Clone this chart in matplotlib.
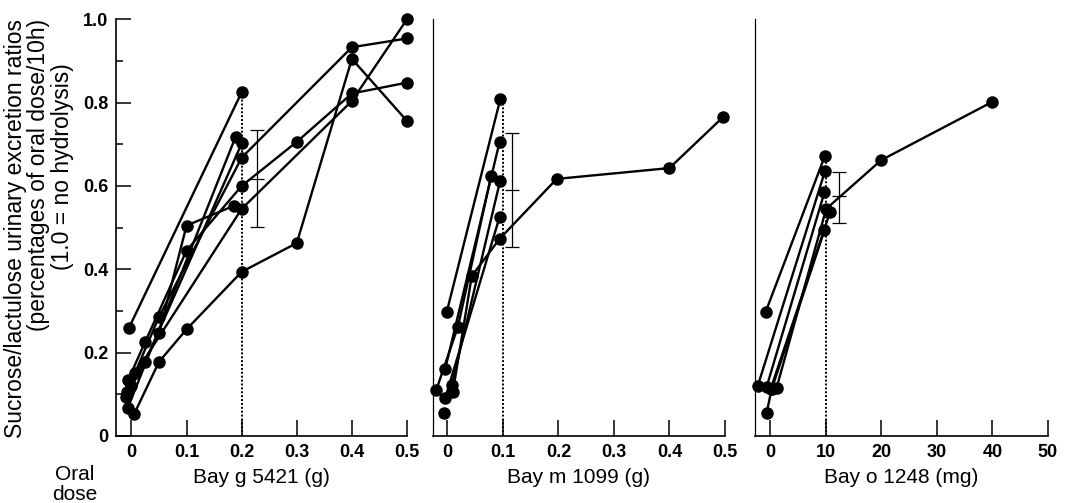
import matplotlib
matplotlib.use('Agg')
import matplotlib.pyplot as plt
from matplotlib.ticker import FixedLocator

# ---------------- data ----------------
# Bay g 5421 (g): one list per subject
bayg_x = [
    [-0.005, 0.2],
    [-0.008, 0.05, 0.2, 0.4, 0.5],
    [-0.006, 0.025, 0.1, 0.2, 0.3, 0.4, 0.5],
    [0.007, 0.2, 0.4, 0.5],
    [0.005, 0.05, 0.1, 0.2, 0.3, 0.4, 0.5],
    [-0.010, 0.05, 0.1, 0.187],
    [-0.007, 0.189],
    [0.0, 0.025, 0.2],
]
bayg_y = [
    [0.258, 0.825],
    [0.106, 0.286, 0.668, 0.933, 0.954],
    [0.134, 0.226, 0.445, 0.600, 0.706, 0.822, 0.848],
    [0.150, 0.545, 0.804, 1.000],
    [0.053, 0.178, 0.256, 0.394, 0.463, 0.905, 0.756],
    [0.093, 0.246, 0.505, 0.553],
    [0.066, 0.718],
    [0.120, 0.178, 0.702],
]
bayg_err = (0.616, 0.501, 0.734)  # mean, low, high

# Bay m 1099 (g)
baym_x = [
    [-0.001, 0.0955],
    [-0.004, 0.094],
    [-0.020, 0.019, 0.079],
    [0.008, 0.095],
    [-0.004, 0.094],
    [0.010, 0.044, 0.094, 0.197, 0.4, 0.497],
    [-0.006],
]
baym_y = [
    [0.298, 0.809],
    [0.160, 0.705],
    [0.110, 0.262, 0.625],
    [0.122, 0.612],
    [0.090, 0.525],
    [0.106, 0.384, 0.473, 0.617, 0.643, 0.766],
    [0.056],
]
baym_err = (0.590, 0.454, 0.726)

# Bay o 1248 (mg)
bayo_x = [
    [-0.8, 9.9],
    [-2.2, 9.9],
    [-0.6, 9.8],
    [1.2, 10.1, 20.0, 40.0],
    [0.1, 10.8],
    [-0.6, 0.3, 9.8],
]
bayo_y = [
    [0.297, 0.673],
    [0.120, 0.636],
    [0.118, 0.585],
    [0.116, 0.545, 0.662, 0.802],
    [0.112, 0.537],
    [0.056, 0.112, 0.494],
]
bayo_err = (0.577, 0.512, 0.634)

ticks_g = [0, 0.1, 0.2, 0.3, 0.4, 0.5]
ticklabels_g = ['0', '0.1', '0.2', '0.3', '0.4', '0.5']
ticks_o = [0, 10, 20, 30, 40, 50]
ticklabels_o = ['0', '10', '20', '30', '40', '50']
yticks = [0, 0.2, 0.4, 0.6, 0.8, 1.0]
yticklabels = ['0', '0.2', '0.4', '0.6', '0.8', '1.0']
yminor = [0.1, 0.3, 0.5, 0.7, 0.9]

xlabels = ['Bay g 5421 (g)', 'Bay m 1099 (g)', 'Bay o 1248 (mg)']
ylabel_lines = ['Sucrose/lactulose urinary excretion ratios',
                '(percentages of oral dose/10h)',
                '(1.0 = no hydrolysis)']

# ---------------- figure ----------------
W, H = 1070, 503
fig = plt.figure(figsize=(W / 100, H / 100), dpi=100)
TICKFONT = dict(family=['Liberation Sans', 'DejaVu Sans'], weight='bold', size=13)
LABFONT = ['Liberation Sans', 'DejaVu Sans']


def make_ax(l, r, top=19.3, bot=436):
    return fig.add_axes([l / W, 1 - bot / H, (r - l) / W, (bot - top) / H])


ax1 = make_ax(116, 407)
ax2 = make_ax(432.5, 725)
ax3 = make_ax(755.3, 1048)

panels = [
    (ax1, bayg_x, bayg_y, bayg_err, (-0.028, 0.5), ticks_g, ticklabels_g, 0.2, 0.825, 0.227),
    (ax2, baym_x, baym_y, baym_err, (-0.0267, 0.5), ticks_g, ticklabels_g, 0.1, 0.809, 0.117),
    (ax3, bayo_x, bayo_y, bayo_err, (-2.64, 50), ticks_o, ticklabels_o, 10, 0.673, 12.46),
]

for ax, xs, ys, err, xlim, xt, xtl, dline_x, dline_top, err_x in panels:
    ax.set_xlim(*xlim)
    ax.set_ylim(0, 1.0)
    for sx, sy in zip(xs, ys):
        ax.plot(sx, sy, color='black', lw=1.7, marker='o', markersize=8,
                markerfacecolor='black', markeredgecolor='black', clip_on=False, zorder=3)
    ax.plot([dline_x, dline_x], [0, dline_top], color='black', lw=1.4,
            linestyle=(0, (1.0, 1.0)), zorder=2)
    m, lo, hi = err
    ax.errorbar([err_x], [m], yerr=[[m - lo], [hi - m]], fmt='none', ecolor='black',
                elinewidth=0.9, capsize=5, capthick=0.9, zorder=2)
    ax.plot([err_x], [m], marker='_', markersize=10, mew=0.9, color='black', zorder=2)

    for s in ['top', 'right']:
        ax.spines[s].set_visible(False)
    ax.spines['bottom'].set_linewidth(1.2)
    ax.xaxis.set_major_locator(FixedLocator(xt))
    ax.set_xticklabels(xtl, fontdict=TICKFONT)
    ax.tick_params(axis='x', direction='in', length=11.5, width=1.1, pad=6)

# y axis of first panel
ax1.spines['left'].set_linewidth(1.2)
ax1.yaxis.set_major_locator(FixedLocator(yticks))
ax1.yaxis.set_minor_locator(FixedLocator(yminor))
ax1.set_yticklabels(yticklabels, fontdict=TICKFONT)
ax1.tick_params(axis='y', which='major', direction='in', length=11, width=1.1, pad=5.5)
ax1.tick_params(axis='y', which='minor', direction='in', length=5, width=1.1)

for ax in (ax2, ax3):
    ax.spines['left'].set_linewidth(0.9)
    ax.set_yticks([])

# axis labels (centred under each panel)
for ax, lab in zip((ax1, ax2, ax3), xlabels):
    bb = ax.get_position()
    fig.text((bb.x0 + bb.x1) / 2, 1 - 483 / H, lab, ha='center', va='baseline',
             family=LABFONT, size=15)
fig.text(75 / W, 1 - 480 / H, 'Oral', ha='center', va='baseline', family=LABFONT, size=15)
fig.text(75 / W, 1 - 500 / H, 'dose', ha='center', va='baseline', family=LABFONT, size=15)

for (xc, yc), line in zip([(16, 229), (39, 175), (62, 167)], ylabel_lines):
    fig.text(xc / W, 1 - yc / H, line, rotation=90, ha='center', va='center',
             family=LABFONT, size=16.5)

fig.savefig('out.png', dpi=100)
